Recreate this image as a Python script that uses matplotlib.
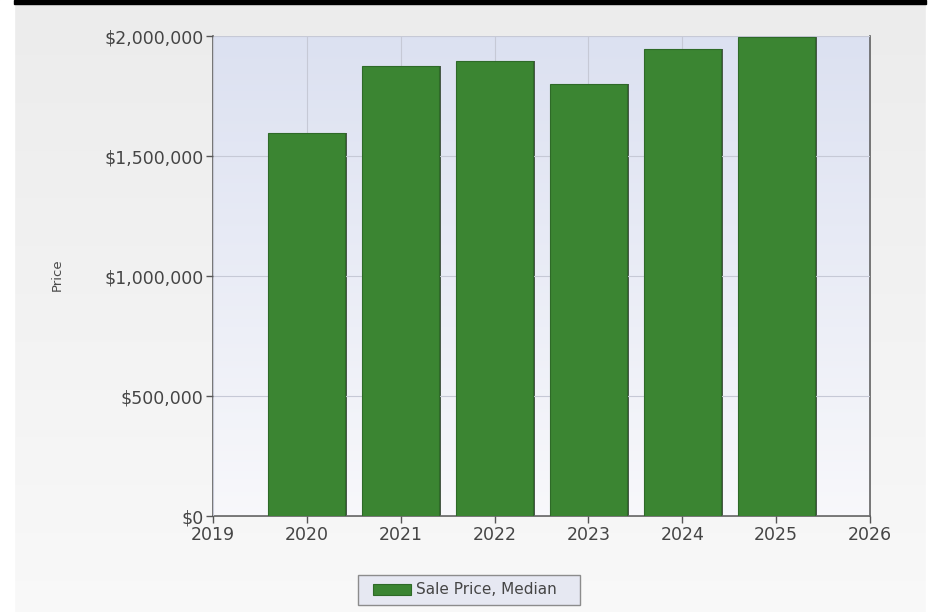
import numpy as np
import matplotlib
matplotlib.use('Agg')
import matplotlib.pyplot as plt
from matplotlib.patches import Rectangle
from matplotlib.ticker import FuncFormatter

# datos
anios = [2020, 2021, 2022, 2023, 2024, 2025]
precio_mediano = [1595000, 1875000, 1895000, 1800000, 1945000, 1995000]
serie_label = 'Sale Price, Median'

plt.rcParams['font.family'] = ['DejaVu Sans']

fig = plt.figure(figsize=(9.47, 6.12), dpi=100)
W, H = 947, 612

# fondo de la figura (degradado gris)
bg = fig.add_axes([0, 0, 1, 1], zorder=-10)
grad = np.linspace(0, 1, 256).reshape(-1, 1)
c_top = np.array([0.925, 0.925, 0.925])
c_bot = np.array([0.975, 0.975, 0.975])
img = c_top + (c_bot - c_top) * grad[:, :, None]
bg.imshow(img, extent=[0, W, 0, H], aspect='auto', origin='upper')
bg.add_patch(Rectangle((0, 0), 14, H, color='white'))
bg.add_patch(Rectangle((926, 0), W - 926, H, color='white'))
bg.add_patch(Rectangle((14, H - 4), 912, 4, color='black'))
# marco de la leyenda
bg.add_patch(Rectangle((358, H - 605), 222, 30, facecolor='#e6e8f2',
                       edgecolor='#8c8c8c', linewidth=1))
bg.set_xlim(0, W)
bg.set_ylim(0, H)
bg.axis('off')

ax = fig.add_axes([213 / W, 1 - 516 / H, (870 - 213) / W, (516 - 36) / H])
ax.set_xlim(2019, 2026)
ax.set_ylim(0, 2000000)

# degradado del area de trazado
c1 = np.array([0.862, 0.882, 0.945])
c2 = np.array([0.973, 0.973, 0.985])
img2 = c1 + (c2 - c1) * grad[:, :, None]
ax.imshow(img2, extent=[2019, 2026, 0, 2000000], aspect='auto', origin='upper', zorder=0)

ax.grid(True, color='#c6c9d6', linewidth=0.8, zorder=1)

x = np.array(anios)
ax.bar(x + 0.02, precio_mediano, width=0.82, color='#4b5a4b', zorder=2)
ax.bar(x, precio_mediano, width=0.82, color='#3b8532', edgecolor='#2e6a28',
       linewidth=0.8, zorder=3, label=serie_label)

ax.set_xticks(range(2019, 2027))
ax.set_yticks([0, 500000, 1000000, 1500000, 2000000])
ax.yaxis.set_major_formatter(FuncFormatter(lambda v, p: '${:,.0f}'.format(v)))
ax.tick_params(axis='both', labelsize=12.5, colors='#555555', labelcolor='#454545',
               length=5, width=1)
ax.tick_params(axis='x', pad=2)
ax.tick_params(axis='y', pad=2)

for s in ['left', 'bottom', 'right']:
    ax.spines[s].set_color('#606060')
    ax.spines[s].set_linewidth(1.2)
ax.spines['top'].set_visible(False)
ax.set_axisbelow(False)

fig.text(57 / W, 1 - 275 / H, 'Price', rotation=90, fontsize=9.5, color='#4a4a4a',
         ha='center', va='center')

leg = fig.legend(loc='center', bbox_to_anchor=(465 / W, 1 - 590 / H), fontsize=11,
                 frameon=False, handlelength=2.5, handleheight=0.75,
                 borderpad=0.3, handletextpad=0.35)
for t in leg.get_texts():
    t.set_color('#454545')

plt.savefig('out.png', dpi=100)
